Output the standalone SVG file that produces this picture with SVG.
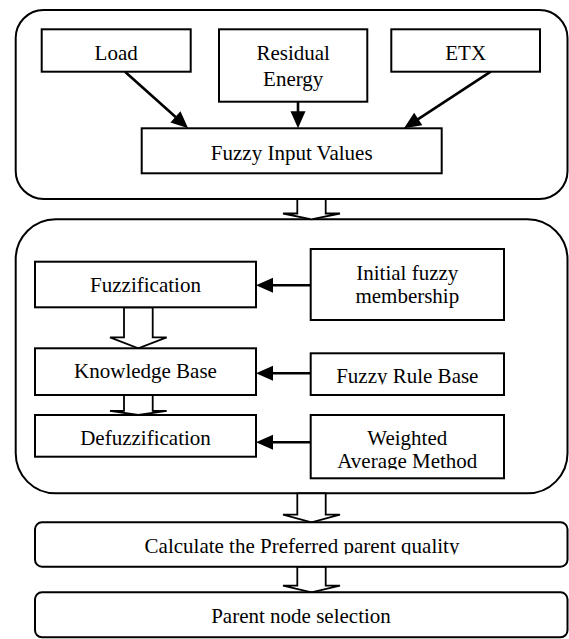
<svg xmlns="http://www.w3.org/2000/svg" width="569" height="639" viewBox="0 0 569 639">
<style>
  .box { fill: #fff; stroke: #000; stroke-width: 2; }
  .frame { fill: #fff; stroke: #000; stroke-width: 2; }
  .t { font-family: "Liberation Serif", "Times New Roman", serif; font-size: 21px; fill: #000; text-anchor: middle; }
  .arr { stroke: #000; stroke-width: 2.6; fill: none; marker-end: url(#head); }
  .hollow { fill: #fff; stroke: #000; stroke-width: 1.8; stroke-linejoin: miter; }
</style>
<defs>
  <marker id="head" markerUnits="userSpaceOnUse" markerWidth="18" markerHeight="16" refX="1" refY="7.5" orient="auto" overflow="visible">
    <path d="M0,0 L17,7.5 L0,15 z" fill="#000"/>
  </marker>
  <clipPath id="clipFRB"><rect x="310" y="353" width="195" height="31.5"/></clipPath>
  <clipPath id="clipWAM"><rect x="310" y="415" width="195" height="54.5"/></clipPath>
  <clipPath id="clipCalc"><rect x="35" y="522" width="533" height="32.5"/></clipPath>
</defs>

<g id="frame-inputs"><rect class="frame" x="15.7" y="10" width="551.8" height="189" rx="28" ry="28"/></g>
<g id="frame-fis"><rect class="frame" x="15.7" y="219.3" width="551.8" height="274" rx="40" ry="40"/></g>

<g id="connectors">
  <line class="arr" x1="125" y1="71.7" x2="176.2" y2="117.5"/>
  <line class="arr" x1="298" y1="101.7" x2="298" y2="112.3"/>
  <line class="arr" x1="490.7" y1="71.7" x2="417.4" y2="119.6"/>
  <line class="arr" x1="310.7" y1="285.3" x2="272" y2="285.3"/>
  <line class="arr" x1="310.7" y1="373.3" x2="272" y2="373.3"/>
  <line class="arr" x1="310.7" y1="442.3" x2="272" y2="442.3"/>
  <polygon class="hollow" points="297.3,199 297.3,213.5 283,213.5 311.5,219.3 340,213.5 325.7,213.5 325.7,199"/>
  <polygon class="hollow" points="124,307.3 124,337.3 110,337.3 138.3,348.3 166.7,337.3 152.7,337.3 152.7,307.3"/>
  <polygon class="hollow" points="124,395 124,410.8 110,410.8 138.3,415 166.7,410.8 152.7,410.8 152.7,395"/>
  <polygon class="hollow" points="297.3,493.3 297.3,514.7 283,514.7 311.5,522.3 340,514.7 325.7,514.7 325.7,493.3"/>
  <polygon class="hollow" points="297.3,566.7 297.3,585.7 283,585.7 311.5,592.3 340,585.7 325.7,585.7 325.7,566.7"/>
</g>

<g id="load"><rect class="box" x="41.7" y="29.3" width="149" height="42.4"/><text class="t" x="116.2" y="60">Load</text></g>
<g id="residual"><rect class="box" x="219" y="29.3" width="148.3" height="72.4"/><text class="t" x="293.2" y="60">Residual</text><text class="t" x="293.2" y="86">Energy</text></g>
<g id="etx"><rect class="box" x="391.3" y="29.3" width="148.7" height="42.4"/><text class="t" x="465.7" y="60">ETX</text></g>
<g id="fuzzy-input"><rect class="box" x="141.7" y="128.3" width="300" height="45"/><text class="t" x="291.7" y="160">Fuzzy Input Values</text></g>

<g id="fuzzification"><rect class="box" x="35" y="261.7" width="221" height="45.6"/><text class="t" x="145.5" y="291.7">Fuzzification</text></g>
<g id="initial"><rect class="box" x="310.7" y="249" width="193.3" height="71"/><text class="t" x="407.3" y="280">Initial fuzzy</text><text class="t" x="407.3" y="303.3">membership</text></g>
<g id="knowledge"><rect class="box" x="35" y="348.3" width="221" height="46.7"/><text class="t" x="145.5" y="378.3">Knowledge Base</text></g>
<g id="rulebase"><rect class="box" x="310.7" y="353.3" width="193.3" height="41.7"/><text class="t" x="407.3" y="383.3" clip-path="url(#clipFRB)">Fuzzy Rule Base</text></g>
<g id="defuzzification"><rect class="box" x="35" y="415" width="221" height="41.7"/><text class="t" x="145.5" y="444.7">Defuzzification</text></g>
<g id="weighted"><rect class="box" x="310.7" y="415" width="193.3" height="63.3"/><text class="t" x="407.3" y="444.7">Weighted</text><text class="t" x="407.3" y="468" clip-path="url(#clipWAM)">Average Method</text></g>

<g id="calculate"><rect class="box" x="35" y="522.3" width="532.5" height="44.4" rx="7" ry="7"/><text class="t" x="302" y="553.3" clip-path="url(#clipCalc)">Calculate the Preferred parent quality</text></g>
<g id="parent"><rect class="box" x="35" y="592.3" width="532.5" height="45" rx="7" ry="7"/><text class="t" x="301" y="623.3">Parent node selection</text></g>
</svg>
